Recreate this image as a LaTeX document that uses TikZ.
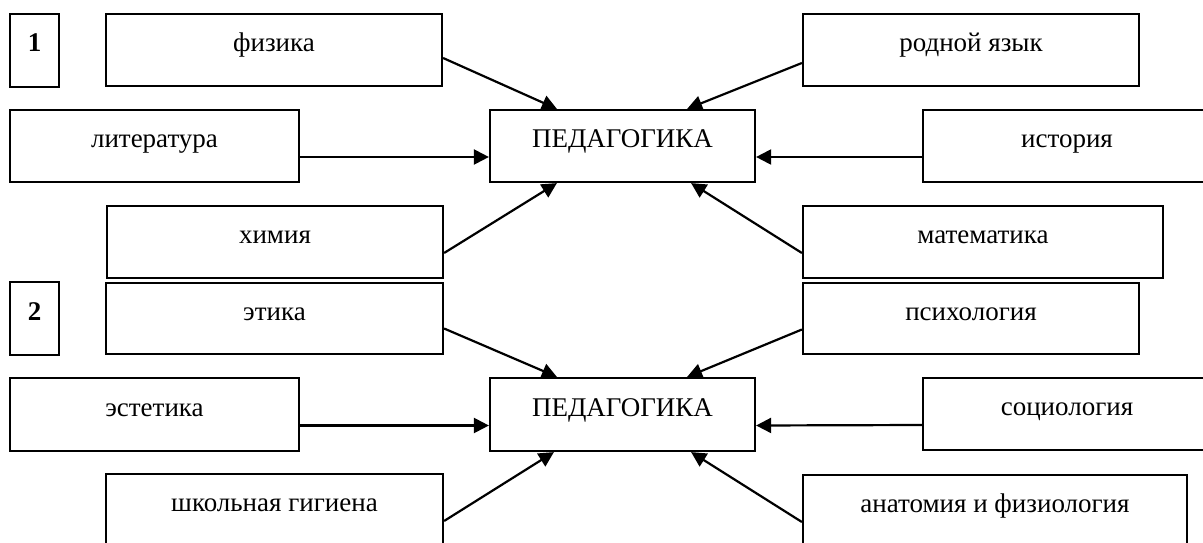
\documentclass[tikz,border=0pt]{standalone}
\usepackage{fontspec}
\setmainfont{Liberation Serif}
\usetikzlibrary{arrows.meta}
\tikzset{
  box/.style={draw,line width=2.2pt,minimum height=72pt,inner sep=0pt,
    text height=12pt,text depth=9pt,font=\fontsize{27}{32}\selectfont},
  numbox/.style={box,minimum width=49pt,minimum height=73pt,font=\fontsize{27}{32}\selectfont\bfseries},
  link/.style={line width=2.2pt,-{Triangle[length=15pt,width=15pt]}}
}
\begin{document}
\begin{tikzpicture}[x=1pt,y=-1pt]
				\useasboundingbox (0,0) rectangle (1203,543);
				\clip (0,0) rectangle (1203,543);
				% part 1
				\node[numbox] (n1) at (34.5,50.5) {1};
				\node[box,minimum width=336pt] (fiz) at (274,50) {физика};
				\node[box,minimum width=289pt] (lit) at (154.5,146) {литература};
				\node[box,minimum width=265pt] (ped1) at (622.5,146) {ПЕДАГОГИКА};
				\node[box,minimum width=288pt] (ist) at (1067,146) {история};
				\node[box,minimum width=336pt] (rod) at (971,50) {родной язык};
				\node[box,minimum width=336pt] (him) at (275,242) {химия};
				\node[box,minimum width=360pt] (mat) at (983,242) {математика};
				\draw[link] ([yshift=-8pt]fiz.east) -- ([xshift=68pt]ped1.north west);
				\draw[link] ([yshift=-13pt]rod.west) -- ([xshift=-69pt]ped1.north east);
				\draw[link] ([yshift=-11pt]lit.east) -- ([yshift=-11pt]ped1.west);
				\draw[link] ([yshift=-11pt]ist.west) -- ([yshift=-11pt]ped1.east);
				\draw[link] ([yshift=-11pt]him.east) -- ([xshift=68pt]ped1.south west);
				\draw[link] ([yshift=-11pt]mat.west) -- ([xshift=-65pt]ped1.south east);
				% part 2
				\node[numbox] (n2) at (34.5,318.5) {2};
				\node[box,minimum width=337pt,minimum height=71pt] (eti) at (274.5,318.5) {этика};
				\node[box,minimum width=289pt,minimum height=73pt] (est) at (154.5,414.5) {эстетика};
				\node[box,minimum width=265pt,minimum height=73pt] (ped2) at (622.5,414.5) {ПЕДАГОГИКА};
				\node[box,minimum width=288pt] (soc) at (1067,414) {социология};
				\node[box,minimum width=336pt,minimum height=71pt] (psy) at (971,318.5) {психология};
				\node[box,minimum width=337pt] (shk) at (274.5,510) {школьная гигиена};
				\node[box,minimum width=384pt] (ana) at (995,511) {анатомия и физиология};
				\draw[link] ([yshift=-10pt]eti.east) -- ([xshift=68pt]ped2.north west);
				\draw[link] ([yshift=-11pt]psy.west) -- ([xshift=-69pt]ped2.north east);
				\draw[link] ([yshift=-11pt]est.east) -- ([yshift=-11pt]ped2.west);
				\draw[link] ([yshift=-11pt]soc.west) -- ([yshift=-11pt]ped2.east);
				\draw[link] ([yshift=-11pt]shk.east) -- ([xshift=65pt]ped2.south west);
				\draw[link] ([yshift=-11pt]ana.west) -- ([xshift=-65pt]ped2.south east);
			\end{tikzpicture}
\end{document}
